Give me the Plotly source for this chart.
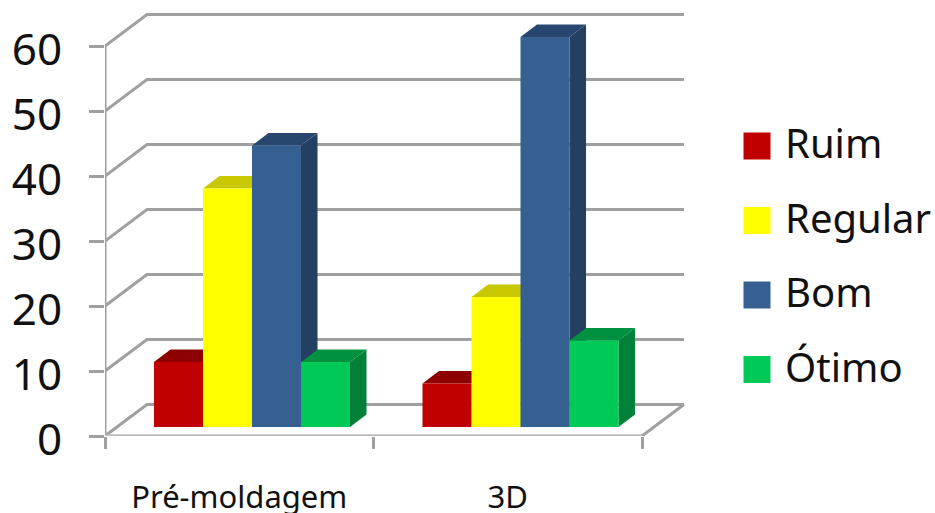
import plotly.graph_objects as go

# Survey results (%) per teaching method
categories = ["Pré-moldagem", "3D"]
series_names = ["Ruim", "Regular", "Bom", "Ótimo"]
ruim = [10, 6.7]
regular = [36.7, 20]
bom = [43.3, 60]
otimo = [10, 13.3]
y_ticks = [0, 10, 20, 30, 40, 50, 60]

series_values = [ruim, regular, bom, otimo]
front_colors = ["#c00000", "#ffff00", "#376092", "#00c957"]
top_colors = ["#8c0000", "#c8c800", "#27476f", "#009140"]
side_colors = ["#8c0000", "#bdbd00", "#233f62", "#008038"]

W, H = 935, 513
PX_X = 268.5          # pixels per category
PX_Y = 6.5            # pixels per percentage point
AX_LEFT, AX_BASE = 105, 436
AX_RIGHT, AX_TOP = 690, 10

# Oblique projection of the chart box and of the bars, in data units
WALL_DX, WALL_DY = 42 / PX_X, 31.5 / PX_Y
BAR_DX, BAR_DY = 16.5 / PX_X, 12.5 / PX_Y
BAR_W = 0.1825
BAR_X0 = 0.1825
BAR_FLOOR = 9 / PX_Y

# Key geometry, in pixels
KEY_STEP = 74.5
KEY_FIRST = 146
KEY_LEFT = 700
KEY_SWATCH = 57
KEY_TEXT = 85

GRID = "#a0a0a0"
FONT = "Noto Sans"
INK = "#111111"
n_cat = len(categories)
fig = go.Figure()


def poly(name, xs, ys, color):
    fig.add_trace(go.Scatter(x=xs, y=ys, mode="lines", fill="toself", fillcolor=color,
                             line=dict(width=0), name=name, showlegend=False,
                             hoverinfo="skip"))


def line(xs, ys, color=GRID, width=3):
    fig.add_trace(go.Scatter(x=xs, y=ys, mode="lines", line=dict(color=color, width=width),
                             showlegend=False, hoverinfo="skip", cliponaxis=False))


# Back wall gridlines with their slanted run to the front axis
for v in y_ticks:
    line([0, WALL_DX, n_cat + WALL_DX], [v, v + WALL_DY, v + WALL_DY])
line([n_cat, n_cat + WALL_DX], [0, WALL_DY])
line([0, 0], [0, y_ticks[-1]], width=3)
line([0, n_cat], [0, 0], color="#bcbcbc", width=3.5)

# Boxes, painted back to front: side, top, then front face of each series
for s, (name, values) in enumerate(zip(series_names, series_values)):
    sx, sy, tx, ty, fx, fy = [], [], [], [], [], []
    for c, v in enumerate(values):
        x0 = c + BAR_X0 + s * BAR_W
        x1 = x0 + BAR_W
        y0 = BAR_FLOOR
        y1 = BAR_FLOOR + v
        sx += [x1, x1 + BAR_DX, x1 + BAR_DX, x1, x1, None]
        sy += [y0, y0 + BAR_DY, y1 + BAR_DY, y1, y0, None]
        tx += [x0, x0 + BAR_DX, x1 + BAR_DX, x1, x0, None]
        ty += [y1, y1 + BAR_DY, y1 + BAR_DY, y1, y1, None]
        fx += [x0, x1, x1, x0, x0, None]
        fy += [y0, y0, y1, y1, y0, None]
    poly(name + " (lado)", sx, sy, side_colors[s])
    poly(name + " (topo)", tx, ty, top_colors[s])
    poly(name, fx, fy, front_colors[s])

# Key at the right: square swatch plus label on its own hidden axes
for r, name in enumerate(series_names):
    fig.add_trace(go.Scatter(x=[KEY_SWATCH], y=[KEY_FIRST + r * KEY_STEP], mode="markers",
                             marker=dict(symbol="square", size=27, color=front_colors[r]),
                             xaxis="x2", yaxis="y2", showlegend=False, hoverinfo="skip",
                             cliponaxis=False))
    fig.add_trace(go.Scatter(x=[KEY_TEXT], y=[KEY_FIRST + r * KEY_STEP + 2], mode="text",
                             text=[name], textposition="middle right",
                             textfont=dict(family=FONT, size=40, color=INK),
                             xaxis="x2", yaxis="y2", showlegend=False, hoverinfo="skip",
                             cliponaxis=False))

fig.update_layout(
    width=W, height=H, margin=dict(l=0, r=0, t=0, b=0),
    paper_bgcolor="white", plot_bgcolor="rgba(0,0,0,0)", showlegend=False,
    xaxis=dict(domain=[AX_LEFT / W, AX_RIGHT / W], automargin=False,
               range=[0, (AX_RIGHT - AX_LEFT) / PX_X],
               tickmode="array", tickvals=[c + 0.5 for c in range(n_cat)], ticktext=categories,
               ticks="", ticklen=1, ticklabelstandoff=40, showgrid=False, zeroline=False,
               tickfont=dict(family=FONT, size=31, color=INK),
               minor=dict(tickmode="array", tickvals=list(range(n_cat + 1)), ticks="outside",
                          ticklen=12, tickwidth=3, tickcolor=GRID, showgrid=False)),
    yaxis=dict(domain=[1 - AX_BASE / H, 1 - AX_TOP / H], automargin=False,
               range=[0, (AX_BASE - AX_TOP) / PX_Y],
               tickmode="array", tickvals=y_ticks, ticks="outside", ticklen=15, tickwidth=3,
               tickcolor=GRID, ticklabelstandoff=18, ticklabelshift=4,
               showgrid=False, zeroline=False,
               tickfont=dict(family=FONT, size=44, color=INK)),
    xaxis2=dict(domain=[KEY_LEFT / W, 1], range=[0, W - KEY_LEFT], visible=False,
                automargin=False),
    yaxis2=dict(domain=[0, 1], range=[H, 0], visible=False, anchor="x2", automargin=False),
)

fig.write_html("out.html")
